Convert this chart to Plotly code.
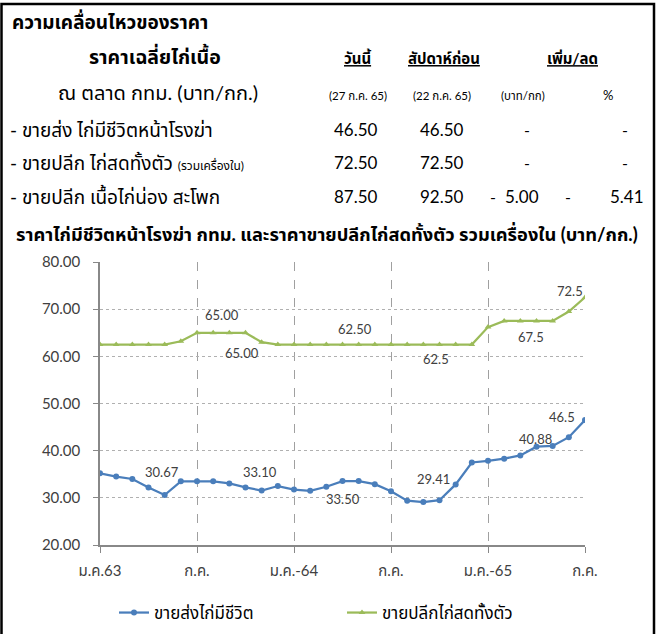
import plotly.graph_objects as go

# ---------------- data ----------------
months = list(range(31))  # ม.ค.63 .. ก.ค.65
tick_vals = [0, 6, 12, 18, 24, 30]
tick_text = ["ม.ค.63", "ก.ค.", "ม.ค.-64", "ก.ค.", "ม.ค.-65", "ก.ค."]

live_wholesale = [35.2, 34.5, 34.0, 32.2, 30.6, 33.5, 33.5, 33.5, 33.05, 32.2,
                  31.55, 32.5, 31.75, 31.5, 32.35, 33.55, 33.55, 32.9, 31.4, 29.4,
                  29.1, 29.5, 32.85, 37.5, 37.85, 38.3, 39.0, 40.85, 41.0, 42.85, 46.5]
retail_whole = [62.5, 62.5, 62.5, 62.5, 62.5, 63.2, 65.0, 65.0, 65.0, 65.0,
                63.0, 62.5, 62.5, 62.5, 62.5, 62.5, 62.5, 62.5, 62.5, 62.5,
                62.5, 62.5, 62.5, 62.5, 66.2, 67.5, 67.5, 67.5, 67.5, 69.5, 72.5]

series_names = ["ขายส่งไก่มีชีวิต", "ขายปลีกไก่สดทั้งตัว"]

# data labels (text, x-month, y-value)
live_labels = [("30.67", 3.85, 35.4), ("33.10", 9.9, 35.5), ("33.50", 15.0, 29.8),
               ("29.41", 20.6, 33.9), ("40.88", 26.95, 42.5), ("46.5", 28.6, 47.1)]
retail_labels = [("65.00", 7.55, 68.8), ("65.00", 8.8, 60.8), ("62.50", 15.8, 65.8),
                 ("62.5", 20.8, 59.4), ("67.5", 26.65, 64.0), ("72.5", 29.1, 73.9)]

# header table
table_items = ["- ขายส่ง ไก่มีชีวิตหน้าโรงฆ่า",
               "- ขายปลีก ไก่สดทั้งตัว <span style='font-size:12px'>(รวมเครื่องใน)</span>",
               "- ขายปลีก เนื้อไก่น่อง สะโพก"]
today_prices = [46.50, 72.50, 87.50]
lastweek_prices = [46.50, 72.50, 92.50]
change_baht = [None, None, -5.00]
change_pct = [None, None, -5.41]

# ---------------- figure ----------------
W, H = 659, 634
L, R, T, B = 100, 585, 261.7, 545.0

def px(x):
    return (x - L) / (R - L)

def py(y):
    return (B - y) / (B - T)

FONT = "Lato, 'Noto Sans Thai', 'Noto Sans', sans-serif"
BLUE = "#4A7EBB"
GREEN = "#9BBB59"

fig = go.Figure()
fig.add_trace(go.Scatter(x=months, y=live_wholesale, mode="lines+markers", name=series_names[0],
                         line=dict(color=BLUE, width=2.25),
                         marker=dict(symbol="circle", size=6, color=BLUE)))
fig.add_trace(go.Scatter(x=months, y=retail_whole, mode="lines+markers", name=series_names[1],
                         line=dict(color=GREEN, width=2.25),
                         marker=dict(symbol="triangle-up", size=6, color=GREEN)))

ann = []
for t, x, y in live_labels + retail_labels:
    ann.append(dict(x=x, y=y, xref="x", yref="y", text=t, showarrow=False,
                    font=dict(size=13, color="#404040")))

def txt(x, y, text, size=17, anchor="center", color="#000000"):
    ann.append(dict(x=px(x), y=py(y), xref="paper", yref="paper", text=text, showarrow=False,
                    xanchor=anchor, yanchor="middle", font=dict(size=size, color=color)))

txt(10, 20, "<b>ความเคลื่อนไหวของราคา</b>", 19, "left")
txt(155, 55, "<b>ราคาเฉลี่ยไก่เนื้อ</b>", 19.5)
txt(358, 57, "<b><u>วันนี้</u></b>", 15)
txt(444, 57, "<b><u>สัปดาห์ก่อน</u></b>", 15)
txt(572, 57, "<b><u>เพิ่ม/ลด</u></b>", 15)
txt(158, 92, "ณ ตลาด กทม. (บาท/กก.)", 20)
txt(358, 95, "(27 ก.ค. 65)", 11.5)
txt(442, 95, "(22 ก.ค. 65)", 11.5)
txt(523, 95, "(บาท/กก)", 11.5)
txt(608, 95, "%", 13)
row_y = [129, 162, 196]
for i in range(3):
    txt(8, row_y[i], table_items[i], 19, "left")
    txt(356, row_y[i], f"{today_prices[i]:.2f}", 17)
    txt(442, row_y[i], f"{lastweek_prices[i]:.2f}", 17)
    if change_baht[i] is None:
        txt(527, row_y[i], "-", 16)
    else:
        txt(493, row_y[i], "-", 16)
        txt(541, row_y[i], f"{abs(change_baht[i]):.2f}", 17, "right")
    if change_pct[i] is None:
        txt(625, row_y[i], "-", 16)
    else:
        txt(568, row_y[i], "-", 16)
        txt(646, row_y[i], f"{abs(change_pct[i]):.2f}", 17, "right")
txt(327, 233, "<b>ราคาไก่มีชีวิตหน้าโรงฆ่า กทม. และราคาขายปลีกไก่สดทั้งตัว รวมเครื่องใน (บาท/กก.)</b>", 18.3)

fig.update_layout(
    width=W, height=H,
    margin=dict(l=L, r=W - R, t=T, b=H - B, pad=0, autoexpand=False),
    paper_bgcolor="white", plot_bgcolor="white",
    font=dict(family=FONT, color="#404040"),
    annotations=ann,
    showlegend=True,
    legend=dict(orientation="h", xref="container", yref="container",
                x=114 / W, y=1 - 613 / H, xanchor="left", yanchor="middle",
                font=dict(size=17, color="#000000"), entrywidth=183, entrywidthmode="pixels",
                bgcolor="rgba(0,0,0,0)"),
    shapes=[dict(type="rect", xref="paper", yref="paper", x0=px(1.5), x1=px(654), y0=py(3.5), y1=py(640),
                 line=dict(color="black", width=2.5))],
)
fig.update_xaxes(range=[0, 30], tickvals=tick_vals, ticktext=tick_text, showgrid=True,
                 gridcolor="#A0A0A0", griddash="dash", gridwidth=1,
                 showline=True, linecolor="#888888", linewidth=1.5,
                 ticks="outside", ticklen=6, tickcolor="#888888", ticklabelstandoff=5,
                 tickfont=dict(size=15, color="#404040"), zeroline=False, automargin=False)
fig.update_yaxes(range=[20, 80], dtick=10, tickformat=".2f", showgrid=True,
                 gridcolor="#B0B0B0", griddash="dot", gridwidth=1,
                 showline=True, linecolor="#888888", linewidth=1.5,
                 ticks="outside", ticklen=5, tickcolor="#888888", ticklabelstandoff=10,
                 tickfont=dict(size=15, color="#404040"), zeroline=False, automargin=False)

fig.write_html("out.html", config={"displayModeBar": False},
               post_script="document.body.style.margin='0';document.body.style.overflow='hidden';")
